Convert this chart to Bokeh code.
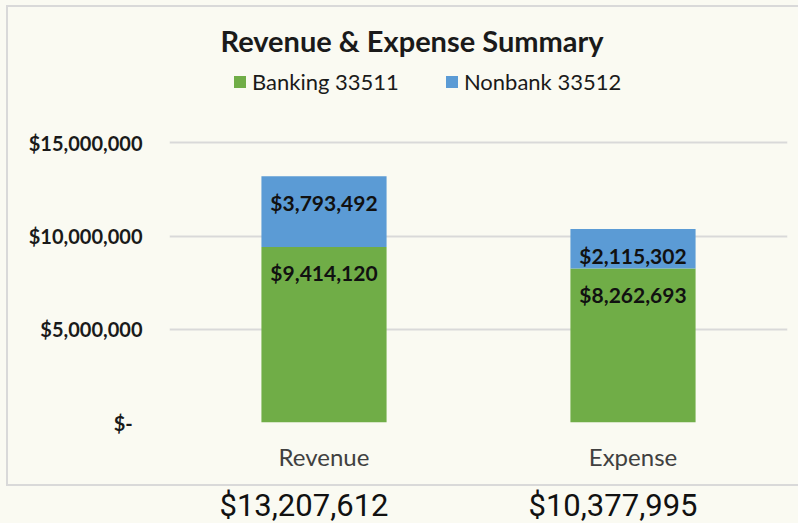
from bokeh.plotting import figure
from bokeh.layouts import column
from bokeh.models import (ColumnDataSource, FactorRange, Range1d, FixedTicker,
                          NumeralTickFormatter, Legend, LegendItem, Label)
from bokeh.core.properties import value
from bokeh.embed import file_html
from bokeh.resources import INLINE

categories = ["Revenue", "Expense"]
banking = [9414120, 8262693]
nonbank = [3793492, 2115302]
series_names = ["Banking 33511", "Nonbank 33512"]
y_ticks = [0, 5000000, 10000000, 15000000]
chart_title = "Revenue & Expense Summary"

GREEN = "#70AD47"
BLUE = "#5B9BD5"
BG = "#FAFAF2"
GRID = "#D9D9D9"
FONT = "Lato"
BORDER = "2px solid " + GRID

totals = [b + n for b, n in zip(banking, nonbank)]
src = ColumnDataSource(dict(
    cat=categories,
    banking=banking,
    nonbank=nonbank,
    top=totals,
    bank_lbl=["${:,}".format(v) for v in banking],
    non_lbl=["${:,}".format(v) for v in nonbank],
    tot_lbl=["${:,}".format(v) for v in totals],
))

xr = FactorRange(*categories)
p = figure(width=792, height=481, x_range=xr,
           y_range=Range1d(0, 22260000), output_backend="svg", toolbar_location=None,
           min_border_left=159, min_border_right=13, min_border_top=0, min_border_bottom=66,
           background_fill_color=BG, border_fill_color=BG, outline_line_color=None,
           margin=(5, 0, 0, 6),
           styles={"border-top": BORDER, "border-left": BORDER, "border-bottom": BORDER})

r = p.vbar_stack(["banking", "nonbank"], x="cat", width=0.405, color=[GREEN, BLUE],
                 line_color=None, source=src)

p.text(x="cat", y="banking", text="bank_lbl", source=src, text_align="center",
       text_baseline="middle", y_offset=26, text_font=value(FONT), text_font_style="bold",
       text_font_size="21px", text_color="#111111")
p.text(x="cat", y="top", text="non_lbl", source=src, text_align="center",
       text_baseline="middle", y_offset=26, text_font=value(FONT), text_font_style="bold",
       text_font_size="21px", text_color="#111111")

p.yaxis.ticker = FixedTicker(ticks=y_ticks)
p.yaxis.formatter = NumeralTickFormatter(format="$0,0")
p.yaxis.major_label_overrides = {0: "$-\u00a0\u00a0"}
p.yaxis.axis_line_color = None
p.yaxis.major_tick_line_color = None
p.yaxis.minor_tick_line_color = None
p.yaxis.major_tick_out = 0
p.yaxis.major_tick_in = 0
p.yaxis.major_label_standoff = 27
p.yaxis.major_label_text_font = FONT
p.yaxis.major_label_text_font_style = "bold"
p.yaxis.major_label_text_font_size = "20px"
p.yaxis.major_label_text_color = "#1a1a1a"

p.xaxis.axis_line_color = None
p.xaxis.major_tick_line_color = None
p.xaxis.major_tick_out = 0
p.xaxis.major_tick_in = 0
p.xaxis.major_label_standoff = 19
p.xaxis.major_label_text_font = FONT
p.xaxis.major_label_text_font_size = "24px"
p.xaxis.major_label_text_color = "#404040"

p.xgrid.grid_line_color = None
p.ygrid.grid_line_color = GRID
p.ygrid.grid_line_width = 2
p.ygrid.ticker = FixedTicker(ticks=y_ticks)

# chart title, centred over the whole chart box
p.add_layout(Label(x=0.785, y=20504000, text=chart_title, text_align="center",
                   text_baseline="middle", text_font=FONT, text_font_size="29px",
                   text_font_style="bold", text_color="#1a1a1a"))

legend = Legend(items=[LegendItem(label=series_names[0], renderers=[r[0]]),
                       LegendItem(label=series_names[1], renderers=[r[1]])],
                orientation="horizontal", location=(63, 327),
                label_text_font=FONT, label_text_font_size="22px", label_text_color="#1a1a1a",
                glyph_width=15, glyph_height=15, label_standoff=5, spacing=45,
                background_fill_alpha=0, border_line_color=None, margin=0, padding=0)
p.add_layout(legend)

# totals row below the chart box
t = figure(width=792, height=37, x_range=xr, y_range=Range1d(0, 1),
           output_backend="svg", toolbar_location=None,
           x_axis_location=None, y_axis_location=None,
           min_border_left=161, min_border_right=13, min_border_top=0, min_border_bottom=0,
           background_fill_color=BG, border_fill_color=BG, outline_line_color=None,
           margin=(0, 0, 0, 6))
t.grid.visible = False
t.text(x="cat", y=0.486, text="tot_lbl", source=src, text_align="center",
       text_baseline="middle", x_offset=-18, text_font=value("Roboto"),
       text_font_size="31px", text_color="#111111")

layout = column(p, t, spacing=0, styles={"background-color": BG})
open("out.html", "w").write(file_html(layout, INLINE))
